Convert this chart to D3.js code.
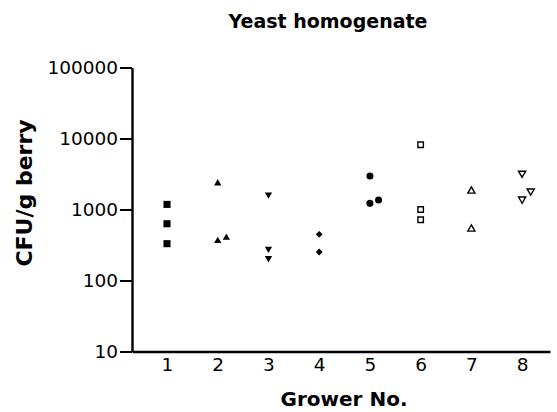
<!DOCTYPE html>
<html>
<head>
<meta charset="utf-8">
<script src="https://cdn.jsdelivr.net/npm/d3@7"></script>
<style>
  body { margin: 0; background: #fff; }
  svg { display: block; font-family: "DejaVu Sans", sans-serif; }
</style>
</head>
<body>
<svg id="chart" width="557" height="412"></svg>
<script>
// Data
var growers = [1, 2, 3, 4, 5, 6, 7, 8];
var cfu = [
    [1180, 630, 330],
    [2340, 360, 400],
    [1620, 280, 206],
    [447, 252],
    [2970, 1220, 1360],
    [8180, 1000, 718],
    [1820, 531],
    [3240, 1820, 1400]
];
// sideways shift (in grower units) of points that would overlap
var shift = [
    [0, 0, 0],
    [0, 0, 0.17],
    [0, 0, 0],
    [0, 0],
    [0, 0, 0.17],
    [0, 0, 0],
    [0, 0],
    [0, 0.17, 0]
];
var yTicks = [10, 100, 1000, 10000, 100000];

// one marker per grower, like the prism defaults
var markerStyle = [
    { type: d3.symbolSquare, size: 50, rot: 0, fill: '#000' },
    { type: d3.symbolTriangle, size: 23, rot: 0, fill: '#000' },
    { type: d3.symbolTriangle, size: 23, rot: 180, fill: '#000' },
    { type: d3.symbolSquare, size: 23, rot: 45, fill: '#000' },
    { type: d3.symbolCircle, size: 39, rot: 0, fill: '#000' },
    { type: d3.symbolSquare, size: 30, rot: 0, fill: 'none' },
    { type: d3.symbolTriangle, size: 22, rot: 0, fill: 'none' },
    { type: d3.symbolTriangle, size: 22, rot: 180, fill: 'none' }
];

var points = [];
for (var i = 0; i < growers.length; i++) {
    for (var j = 0; j < cfu[i].length; j++) {
        points.push({ g: i, x: growers[i] + shift[i][j], v: cfu[i][j] });
    }
}

var svg = d3.select('#chart');

var x = d3.scaleLinear()
    .domain([0.31, 8.55])
    .range([132, 550]);

var y = d3.scaleLog()
    .domain([10, 100000])
    .range([351.5, 67.5]);

// Y axis
var yAxis = svg.append('g')
    .attr('transform', 'translate(132,0)')
    .call(
        d3.axisLeft(y)
            .tickValues(yTicks)
            .tickFormat(d3.format('d'))
            .tickSizeInner(12)
            .tickSizeOuter(0)
            .tickPadding(2)
    );
yAxis.select('.domain').attr('stroke-width', 2.4);
yAxis.selectAll('.tick line').attr('stroke-width', 2);
yAxis.selectAll('.tick text')
    .attr('font-family', '"DejaVu Sans", sans-serif')
    .attr('font-size', 18.5)
    .attr('fill', '#000');

// X axis
var xAxis = svg.append('g')
    .attr('transform', 'translate(0,351.5)')
    .call(
        d3.axisBottom(x)
            .tickValues(growers)
            .tickFormat(d3.format('d'))
            .tickSize(0)
            .tickPadding(6)
    );
xAxis.select('.domain').attr('stroke-width', 2.4);
xAxis.selectAll('.tick text')
    .attr('font-family', '"DejaVu Sans", sans-serif')
    .attr('font-size', 18.5)
    .attr('fill', '#000');

// points
svg.selectAll('.pt')
    .data(points)
    .enter()
    .append('path')
    .attr('class', 'pt')
    .attr('d', function(d) {
        var m = markerStyle[d.g];
        return d3.symbol().type(m.type).size(m.size)();
    })
    .attr('transform', function(d) {
        return 'translate(' + x(d.x) + ',' + y(d.v) + ') rotate(' + markerStyle[d.g].rot + ')';
    })
    .attr('fill', function(d) { return markerStyle[d.g].fill; })
    .attr('stroke', '#000')
    .attr('stroke-width', function(d) {
        return markerStyle[d.g].fill === 'none' ? 1.4 : 0;
    });

// titles
svg.append('text')
    .attr('x', 328)
    .attr('y', 28)
    .attr('text-anchor', 'middle')
    .attr('font-size', 19)
    .attr('font-weight', 'bold')
    .text('Yeast homogenate');

svg.append('text')
    .attr('x', 344)
    .attr('y', 406)
    .attr('text-anchor', 'middle')
    .attr('font-size', 20)
    .attr('font-weight', 'bold')
    .text('Grower No.');

svg.append('text')
    .attr('transform', 'translate(32,193) rotate(-90)')
    .attr('text-anchor', 'middle')
    .attr('font-size', 22)
    .attr('font-weight', 'bold')
    .text('CFU/g berry');
</script>
</body>
</html>
